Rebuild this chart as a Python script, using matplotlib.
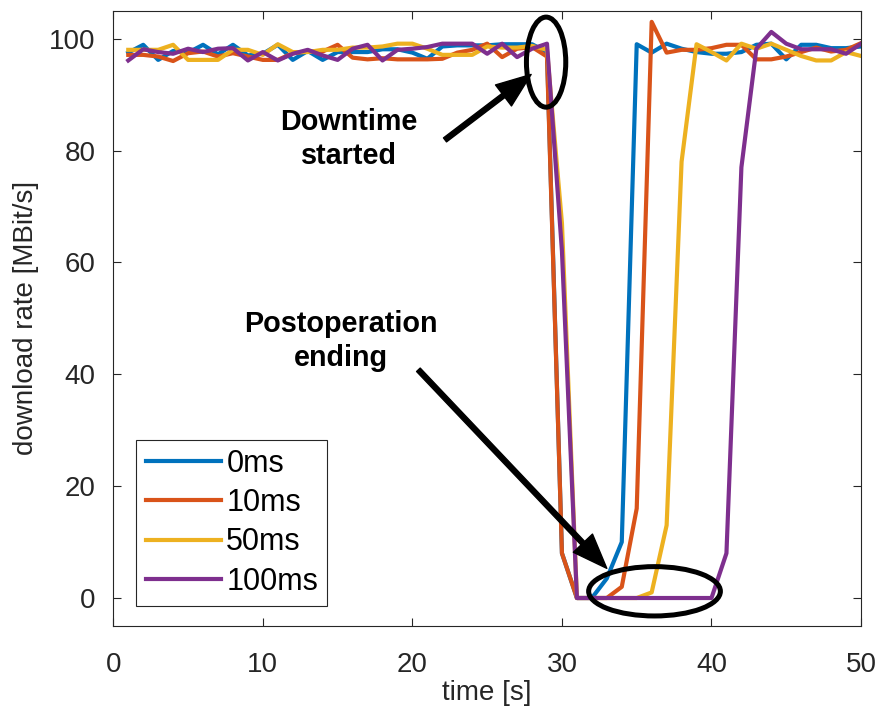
import matplotlib.pyplot as plt
import numpy as np
from matplotlib.patches import Ellipse

plt.rcParams['font.family'] = ['Liberation Sans', 'DejaVu Sans']

# Messzeitpunkte (1 s Raster)
t = np.arange(1, 51)

rate_0ms = [97.5, 98.9, 96.2, 97.8, 97.5, 98.9, 97.2, 98.9, 97.0, 97.3,
            98.9, 96.2, 97.8, 96.2, 97.6, 97.6, 97.6, 98.1, 98.1, 97.5,
            96.4, 98.6, 98.8, 98.8, 98.8, 99.0, 99.0, 99.0, 97.6, 8.0,
            0.0, 0.0, 3.5, 10.0, 99.0, 97.5, 99.1, 98.2, 97.6, 97.3,
            97.3, 97.6, 98.9, 99.1, 96.3, 98.9, 98.9, 98.3, 98.3, 98.6]
rate_10ms = [97.1, 97.1, 96.8, 96.0, 97.4, 97.7, 96.8, 97.4, 96.8, 96.2,
             96.2, 97.4, 97.7, 97.7, 98.9, 96.6, 96.3, 96.5, 96.3, 96.3,
             96.3, 96.4, 97.5, 98.0, 99.1, 96.7, 98.2, 98.5, 96.8, 8.0,
             0.0, 0.0, 0.0, 2.0, 16.0, 103.0, 97.5, 98.0, 98.0, 98.3,
             98.9, 98.9, 96.3, 96.3, 96.8, 97.6, 98.4, 97.7, 98.0, 99.2]
rate_50ms = [98.0, 98.0, 98.0, 98.9, 96.2, 96.2, 96.2, 98.0, 98.0, 97.1,
             99.0, 97.6, 97.6, 98.0, 98.0, 98.4, 98.4, 98.6, 99.1, 99.1,
             98.2, 97.1, 97.1, 97.1, 98.6, 98.4, 98.4, 98.7, 98.0, 67.0,
             0.0, 0.0, 0.0, 0.0, 0.0, 1.0, 13.0, 78.0, 99.0, 97.6,
             96.1, 99.1, 98.2, 99.1, 98.0, 96.9, 96.1, 96.1, 97.6, 96.9]
rate_100ms = [96.1, 98.1, 97.6, 97.3, 98.2, 97.6, 98.2, 98.3, 96.1, 97.6,
              96.1, 97.3, 98.0, 97.0, 96.2, 98.2, 98.9, 96.1, 98.0, 98.2,
              98.5, 99.1, 99.1, 99.1, 97.3, 99.1, 96.7, 98.2, 99.1, 62.0,
              0.0, 0.0, 0.0, 0.0, 0.0, 0.0, 0.0, 0.0, 0.0, 0.0,
              8.0, 77.0, 98.2, 101.2, 99.1, 98.1, 98.1, 98.1, 97.3, 99.1]

labels = ['0ms', '10ms', '50ms', '100ms']
colors = ['#0072BD', '#D95319', '#EDB120', '#7E2F8E']
series = [rate_0ms, rate_10ms, rate_50ms, rate_100ms]

fig = plt.figure(figsize=(8.77, 7.07), dpi=100)
ax = fig.add_axes([0.1292, 0.1146, 0.8526, 0.8703])

for y, lab, c in zip(series, labels, colors):
    ax.plot(t, y, color=c, lw=3, label=lab)

ax.set_xlim(0, 50)
ax.set_ylim(-5, 105)
ax.set_xticks(range(0, 51, 10))
ax.set_yticks(range(0, 101, 20))
ax.tick_params(direction='in', length=6, width=0.8, colors='#262626',
               labelsize=20, top=True, right=True)
ax.tick_params(axis='x', pad=19)
ax.tick_params(axis='y', pad=13)
for s in ax.spines.values():
    s.set_color('#262626')
    s.set_linewidth(0.8)

ax.set_xlabel('time [s]', fontsize=20, color='#262626', labelpad=1)
ax.set_ylabel('download rate [MBit/s]', fontsize=20, color='#262626', labelpad=7)

# Markierungen: Beginn der Downtime und Ende der Nachbearbeitung
ax.add_patch(Ellipse((28.94, 95.8), 2.63, 16.1, fill=False, lw=3.6, ec='k', zorder=5))
ax.add_patch(Ellipse((36.19, 1.2), 8.81, 8.82, fill=False, lw=3.6, ec='k', zorder=5))

pfeil = dict(facecolor='k', edgecolor='k', width=3.6, headwidth=19, headlength=25, shrink=0)
ax.annotate('', xy=(27.94, 93.6), xytext=(22.18, 81.9), arrowprops=pfeil, zorder=6)
ax.annotate('', xy=(33.0, 5.3), xytext=(20.4, 40.8), arrowprops=pfeil, zorder=6)

ax.text(15.75, 82.1, 'Downtime\nstarted', ha='center', va='center',
        fontsize=20.7, fontweight='bold', linespacing=1.28)
ax.text(15.22, 46.0, 'Postoperation\nending', ha='center', va='center',
        fontsize=20.7, fontweight='bold', linespacing=1.28)

leg = ax.legend(loc='lower left', bbox_to_anchor=(0.031, 0.033), borderaxespad=0,
                fontsize=22, fancybox=False, edgecolor='#262626', framealpha=1,
                handlelength=2.48, handletextpad=0.16, labelspacing=0.3, borderpad=0.3)
leg.get_frame().set_linewidth(0.8)

fig.savefig('out.png', dpi=100)
